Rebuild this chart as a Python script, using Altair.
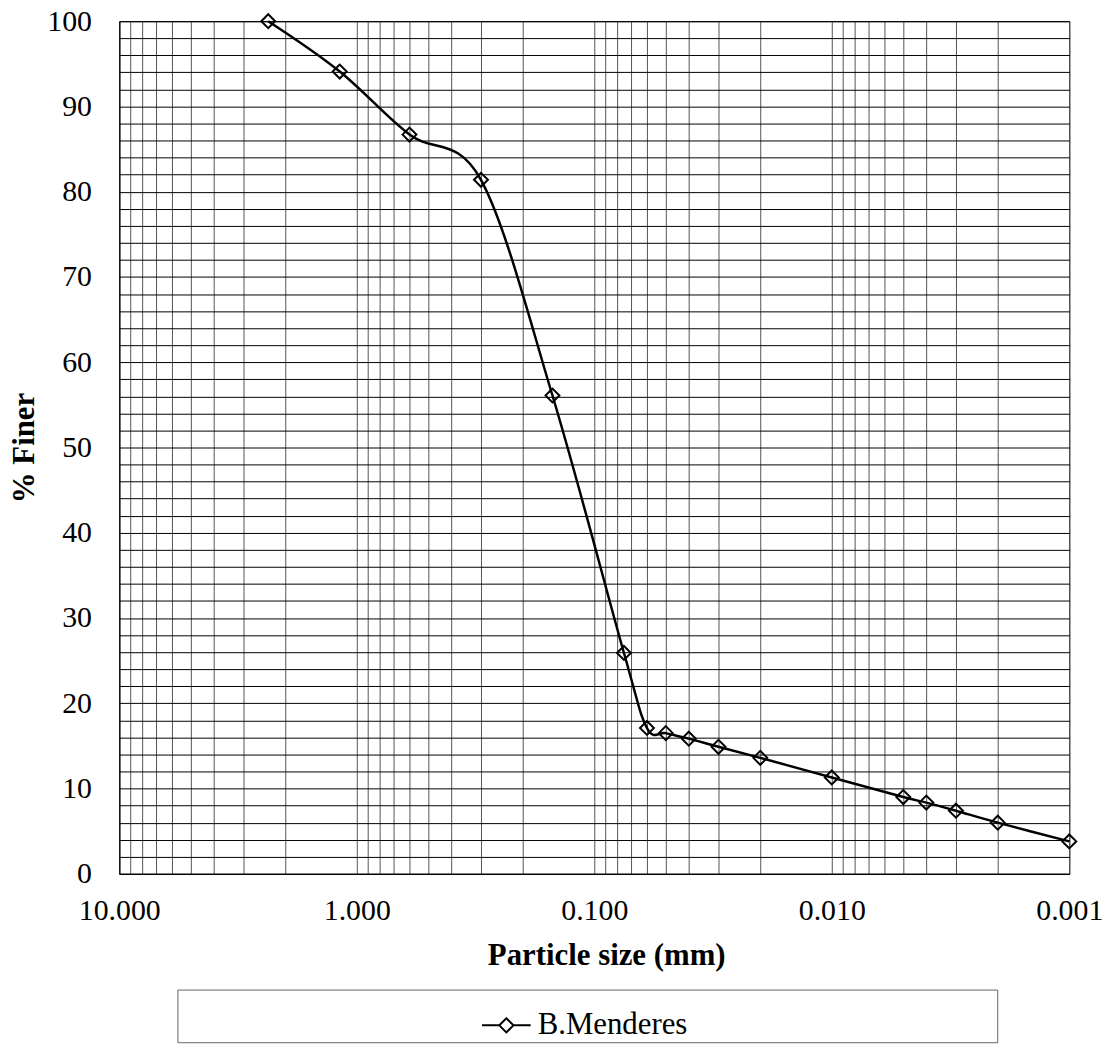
import altair as alt
import pandas as pd

# Data
size_mm = [2.36, 1.18, 0.6, 0.3, 0.15, 0.075, 0.06, 0.05, 0.04, 0.03, 0.02,
           0.01, 0.005, 0.004, 0.003, 0.002, 0.001]
pct_finer = [100, 94.1, 86.7, 81.4, 56.1, 25.9, 17.1, 16.5, 15.85, 14.9, 13.6,
             11.3, 9.0, 8.35, 7.4, 6.0, 3.8]
series_name = "B.Menderes"

x_grid_values = [round(n * 10.0 ** e, 6) for e in range(-3, 1) for n in range(1, 10)] + [10.0]
y_grid_values = list(range(0, 101, 2))

df = pd.DataFrame({"size": size_mm, "finer": pct_finer, "series": series_name})
box_df = pd.DataFrame({"k": [0]})

FONT = "Liberation Serif"

x_axis = alt.Axis(
    values=x_grid_values,
    tickCount=500,
    labelExpr="abs(log(datum.value)/LN10 - round(log(datum.value)/LN10)) < 1e-6 ? format(datum.value, '.3f') : ''",
    labelOverlap=False,
    labelFlush=False,
    grid=True,
    gridColor="#555555",
    gridOpacity=1,
    gridWidth=1,
    ticks=False,
    labelPadding=22,
    labelFont=FONT,
    labelFontSize=30,
    labelColor="black",
    domainColor="black",
    title="Particle size (mm)",
    titleFont=FONT,
    titleFontSize=31,
    titleFontWeight="bold",
    titleColor="black",
    titleX=490,
    titleY=82,
    titleBaseline="middle",
    titleAlign="center",
)
y_axis = alt.Axis(
    values=y_grid_values,
    tickCount=500,
    labelExpr="datum.value % 10 == 0 ? format(datum.value, 'd') : ''",
    labelOverlap=False,
    labelFlush=False,
    grid=True,
    gridColor="black",
    gridOpacity=1,
    gridWidth=1,
    ticks=False,
    labelPadding=28,
    labelFont=FONT,
    labelFontSize=30,
    labelColor="black",
    domainColor="black",
    title="% Finer",
    titleFont=FONT,
    titleFontSize=31,
    titleFontWeight="bold",
    titleColor="black",
    titleX=-95,
    titleY=429,
    titleAngle=270,
    titleBaseline="middle",
    titleAlign="center",
)

x_enc = alt.X("size:Q",
              scale=alt.Scale(type="log", domain=[0.001, 10], reverse=True, nice=False),
              axis=x_axis)
y_enc = alt.Y("finer:Q", scale=alt.Scale(domain=[0, 100], nice=False), axis=y_axis)

legend_box = alt.Chart(box_df).mark_rect(
    fill="white", stroke="#666666", strokeWidth=1
).encode(
    x=alt.value(59), x2=alt.value(884), y=alt.value(975), y2=alt.value(1028)
)

line = alt.Chart(df).mark_line(
    color="black", strokeWidth=2.5, interpolate="cardinal"
).encode(x=x_enc, y=y_enc, order=alt.Order("size:Q", sort="descending"))

points = alt.Chart(df).mark_point(
    shape="diamond", size=196, filled=False, strokeWidth=2, opacity=1
).encode(
    x=x_enc,
    y=y_enc,
    color=alt.Color(
        "series:N",
        scale=alt.Scale(range=["black"]),
        legend=alt.Legend(
            title=None,
            orient="none",
            legendX=364,
            legendY=985,
            padding=0,
            symbolType="M-1,0H-0.29M0.29,0H1M0,-0.29L0.29,0L0,0.29L-0.29,0Z",
            symbolSize=2401,
            symbolStrokeWidth=2,
            symbolStrokeColor="black",
            labelFont=FONT,
            labelFontSize=31,
            labelColor="black",
            labelOffset=6,
            labelLimit=400,
        ),
    ),
)

chart = alt.layer(legend_box, line, points).properties(
    width=956,
    height=858,
    padding={"left": 112, "top": 10, "right": 42, "bottom": 172},
    autosize=alt.AutoSizeParams(type="none"),
).configure(
    font=FONT,
    style={"guide-label": {"font": FONT, "fontSize": 30, "fill": "black"}},
).configure_axis(
    labelFont=FONT, labelFontSize=30, labelColor="black",
    titleFont=FONT, titleFontSize=31, titleColor="black",
).configure_legend(
    labelFont=FONT, labelFontSize=31, labelColor="black", labelLimit=400,
).configure_view(stroke="black", strokeWidth=1)

chart.save("out.html", embed_options={"renderer": "svg", "actions": False})
